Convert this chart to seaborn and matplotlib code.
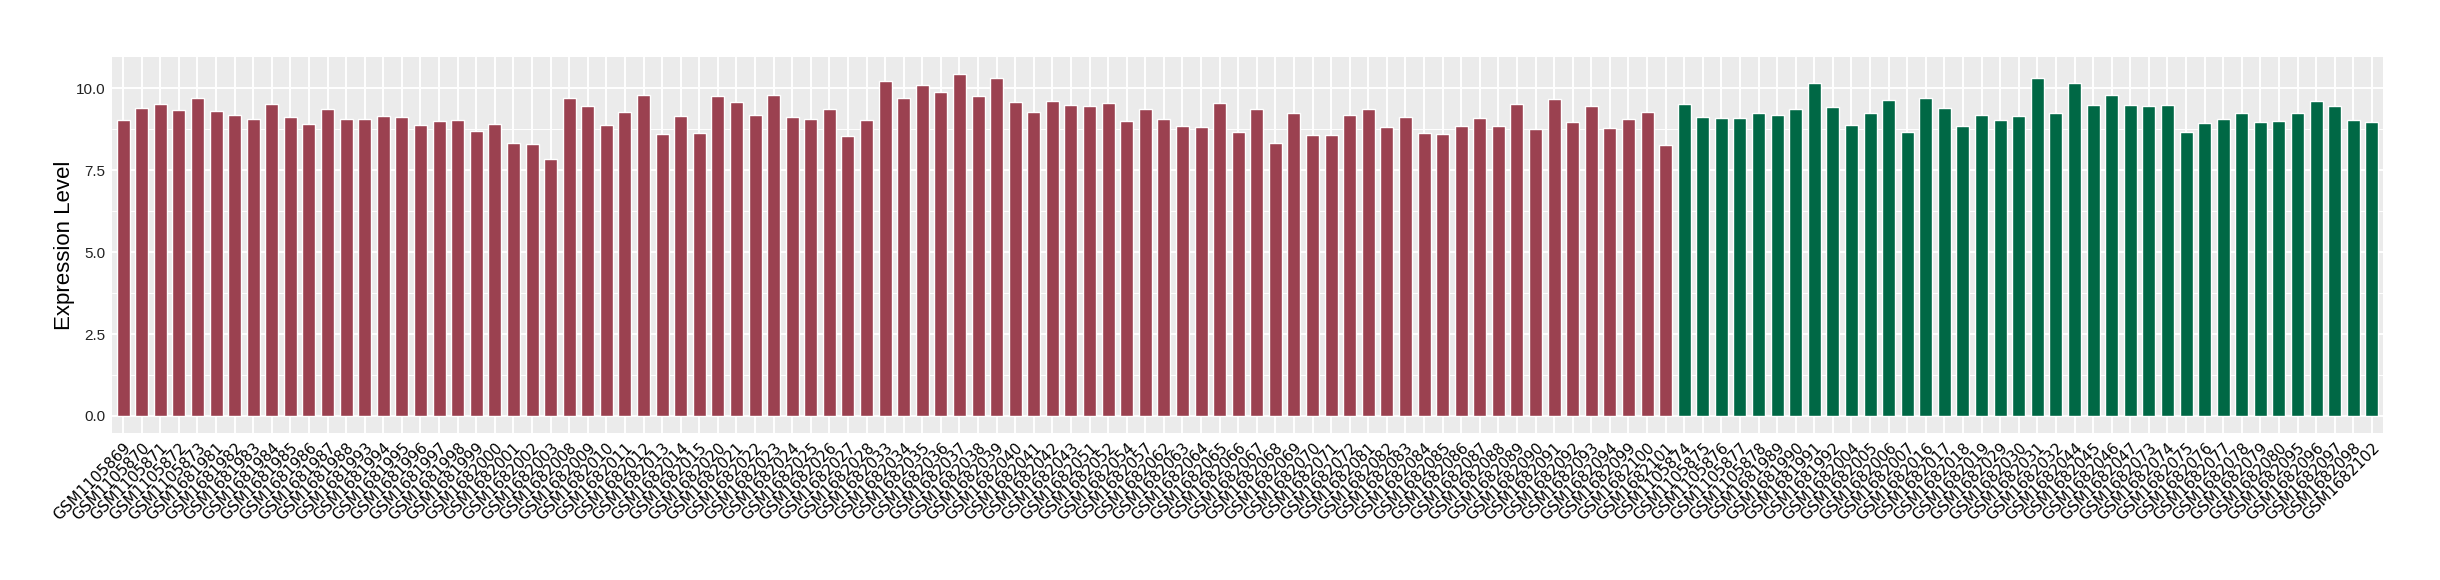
import numpy as np
import pandas as pd
import seaborn as sns
import matplotlib.pyplot as plt
from matplotlib.ticker import MultipleLocator

# -----------------------------
# Data
# -----------------------------
group_a_samples = (
    ["GSM11058%d" % i for i in range(69, 74)]
    + ["GSM16819%d" % i for i in range(81, 89)]
    + ["GSM16819%d" % i for i in range(93, 100)]
    + ["GSM168200%d" % i for i in range(0, 4)]
    + ["GSM16820%02d" % i for i in range(8, 16)]
    + ["GSM16820%d" % i for i in range(20, 29)]
    + ["GSM16820%d" % i for i in range(33, 44)]
    + ["GSM1682051", "GSM1682052", "GSM1682054", "GSM1682057"]
    + ["GSM16820%d" % i for i in range(62, 73)]
    + ["GSM16820%d" % i for i in range(81, 95)]
    + ["GSM1682099", "GSM1682100", "GSM1682101"]
)
group_a_values = [
    9.03, 9.40, 9.52, 9.34, 9.71, 9.31, 9.19, 9.07, 9.52, 9.13,
    8.91, 9.37, 9.07, 9.07, 9.16, 9.13, 8.88, 9.00, 9.03, 8.70,
    8.91, 8.33, 8.30, 7.85, 9.71, 9.46, 8.88, 9.28, 9.80, 8.61,
    9.16, 8.64, 9.77, 9.58, 9.19, 9.80, 9.13, 9.07, 9.37, 8.55,
    9.03, 10.22, 9.71, 10.10, 9.89, 10.44, 9.77, 10.32, 9.58, 9.28,
    9.61, 9.49, 9.46, 9.55, 9.00, 9.37, 9.07, 8.85, 8.82, 9.55,
    8.67, 9.37, 8.33, 9.25, 8.58, 8.58, 9.19, 9.37, 8.82, 9.13,
    8.64, 8.61, 8.85, 9.10, 8.85, 9.52, 8.76, 9.67, 8.97, 9.46,
    8.79, 9.07, 9.28, 8.27,
]

group_b_samples = (
    ["GSM11058%d" % i for i in range(74, 79)]
    + ["GSM1681989", "GSM1681990", "GSM1681991", "GSM1681992"]
    + ["GSM168200%d" % i for i in range(4, 8)]
    + ["GSM16820%d" % i for i in range(16, 20)]
    + ["GSM16820%d" % i for i in range(29, 33)]
    + ["GSM16820%d" % i for i in range(44, 48)]
    + ["GSM16820%d" % i for i in range(73, 81)]
    + ["GSM16820%d" % i for i in range(95, 99)]
    + ["GSM1682102"]
)
group_b_values = [
    9.52, 9.13, 9.10, 9.10, 9.25, 9.19, 9.37, 10.16, 9.43, 8.88,
    9.25, 9.64, 8.67, 9.71, 9.40, 8.85, 9.19, 9.03, 9.16, 10.32,
    9.25, 10.16, 9.49, 9.80, 9.49, 9.46, 9.49, 8.67, 8.94, 9.07,
    9.25, 8.97, 9.00, 9.25, 9.61, 9.46, 9.03, 8.97,
]

group_colors = {"A": "#9B4150", "B": "#006845"}

df = pd.DataFrame({
    "sample": group_a_samples + group_b_samples,
    "value": group_a_values + group_b_values,
    "group": ["A"] * len(group_a_samples) + ["B"] * len(group_b_samples),
})

# -----------------------------
# Plot (ggplot-like grey theme)
# -----------------------------
sns.set_theme(style="darkgrid", rc={
    "axes.facecolor": "#EBEBEB",
    "grid.color": "white",
})
plt.rcParams["font.family"] = ["Liberation Sans", "DejaVu Sans"]

fig = plt.figure(figsize=(24.4, 5.8), dpi=100)
ax = fig.add_axes([112 / 2440, 1 - 433 / 580, (2383 - 112) / 2440, (433 - 57) / 580])

sns.barplot(
    data=df, x="sample", y="value", hue="group", palette=group_colors,
    dodge=False, width=0.7, legend=False, saturation=1, ax=ax, zorder=3,
)

n = len(df)
ax.set_xlim(-0.6, n - 1 + 0.6)
ax.set_ylim(-0.52, 10.96)
ax.yaxis.set_minor_locator(MultipleLocator(1.25))
ax.set_yticks([0, 2.5, 5, 7.5, 10])
ax.set_yticklabels(["0.0", "2.5", "5.0", "7.5", "10.0"], fontsize=11, color="#222222")

ax.grid(which="major", color="white", linewidth=1.4, zorder=0)
ax.grid(which="minor", axis="y", color="white", linewidth=0.7, zorder=0)
ax.set_axisbelow(True)
for s in ax.spines.values():
    s.set_visible(False)

ax.tick_params(axis="both", which="major", length=3, width=0.8, color="#333333", pad=2)
ax.tick_params(axis="y", which="minor", length=0)
plt.setp(ax.get_xticklabels(), rotation=45, ha="right", rotation_mode="anchor",
         fontsize=11, color="black", family="DejaVu Sans")

ax.set_xlabel("")
ax.set_ylabel("Expression Level", fontsize=16, color="black")
ax.yaxis.set_label_coords(-0.0165, 0.5)

fig.savefig("out.png", dpi=100)
